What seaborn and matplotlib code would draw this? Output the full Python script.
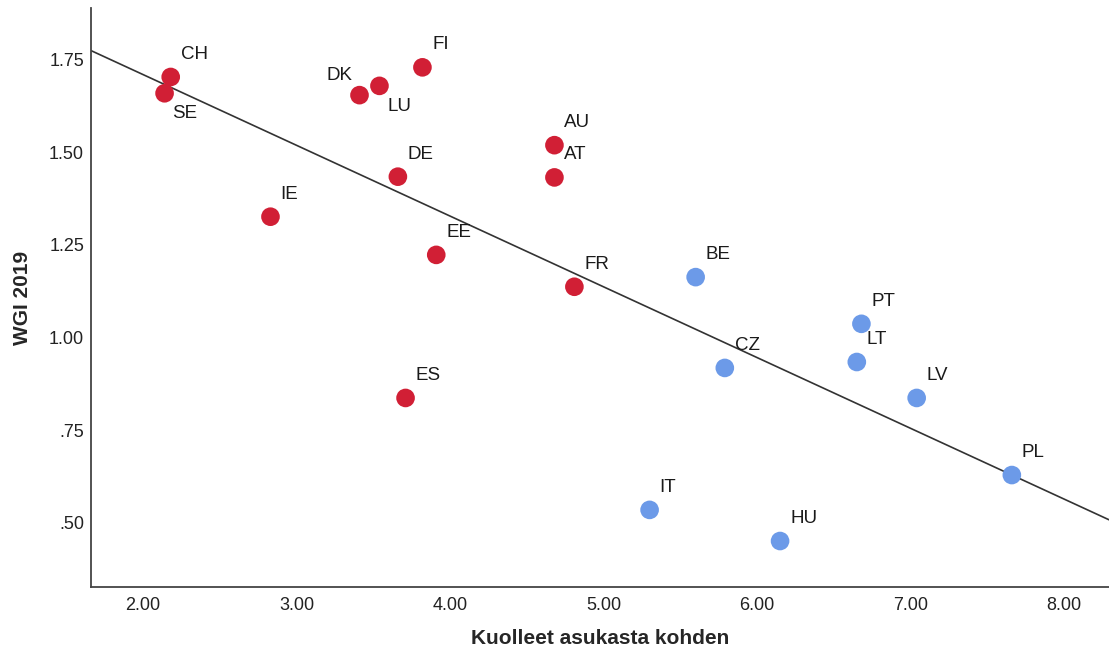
import matplotlib
matplotlib.use("Agg")
import matplotlib.pyplot as plt
from matplotlib.ticker import FuncFormatter
import pandas as pd
import seaborn as sns

# maat ja arvot (luettu kuvasta)
maat = ["CH", "SE", "DK", "LU", "FI", "AU", "AT", "DE", "IE", "EE", "FR", "ES",
        "BE", "PT", "LT", "CZ", "LV", "PL", "IT", "HU"]
kuolleet = [2.18, 2.14, 3.41, 3.54, 3.82, 4.68, 4.68, 3.66, 2.83, 3.91, 4.81, 3.71,
            5.60, 6.68, 6.65, 5.79, 7.04, 7.66, 5.30, 6.15]
wgi = [1.703, 1.659, 1.654, 1.679, 1.729, 1.519, 1.432, 1.434, 1.326, 1.223, 1.137, 0.837,
       1.163, 1.037, 0.934, 0.918, 0.837, 0.629, 0.535, 0.451]
ryhma = ["a"] * 12 + ["b"] * 8

# label placement: default upper right, a few exceptions
sijainti = {"SE": "lower", "LU": "lower", "DK": "left"}

df = pd.DataFrame({"maa": maat, "x": kuolleet, "y": wgi, "ryhma": ryhma})

sns.set_style("white")
plt.rcParams["font.family"] = ["Liberation Sans", "DejaVu Sans"]

fig = plt.figure(figsize=(11.09, 6.53), dpi=100)
ax = fig.add_axes([0.0821, 0.1011, 0.9179, 0.8866])
ax.set_xlim(1.661, 8.293)
ax.set_ylim(0.327, 1.889)

sns.regplot(data=df, x="x", y="y", scatter=False, ci=None, truncate=False,
            line_kws={"color": "#333333", "lw": 1.2}, ax=ax)
sns.scatterplot(data=df, x="x", y="y", hue="ryhma",
                palette={"a": "#D11F35", "b": "#6C9AE8"},
                s=180, linewidth=0, legend=False, zorder=3, ax=ax)

for _, r in df.iterrows():
    pos = sijainti.get(r["maa"], "upper")
    if pos == "upper":
        ax.annotate(r["maa"], (r["x"], r["y"]), xytext=(10, 14), textcoords="offset pixels",
                    ha="left", va="bottom", fontsize=13.5, color="#1a1a1a")
    elif pos == "lower":
        ax.annotate(r["maa"], (r["x"], r["y"]), xytext=(8, -12), textcoords="offset pixels",
                    ha="left", va="top", fontsize=13.5, color="#1a1a1a")
    else:
        ax.annotate(r["maa"], (r["x"], r["y"]), xytext=(-7, 11), textcoords="offset pixels",
                    ha="right", va="bottom", fontsize=13.5, color="#1a1a1a")

ax.set_xticks([2, 3, 4, 5, 6, 7, 8])
ax.set_yticks([0.5, 0.75, 1.0, 1.25, 1.5, 1.75])
ax.xaxis.set_major_formatter(FuncFormatter(lambda v, p: f"{v:.2f}"))
ax.yaxis.set_major_formatter(FuncFormatter(lambda v, p: f"{v:.2f}".lstrip("0")))
ax.tick_params(axis="x", length=0, pad=7, labelsize=13, labelcolor="#222222")
ax.tick_params(axis="y", length=0, pad=5, labelsize=13, labelcolor="#222222")

ax.set_xlabel("Kuolleet asukasta kohden", fontsize=15, fontweight="bold", labelpad=11)
ax.set_ylabel("WGI 2019", fontsize=15, fontweight="bold", labelpad=12)

sns.despine(ax=ax)
for s in ["left", "bottom"]:
    ax.spines[s].set_color("#444444")
    ax.spines[s].set_linewidth(1.3)

fig.savefig("out.png", dpi=100)
